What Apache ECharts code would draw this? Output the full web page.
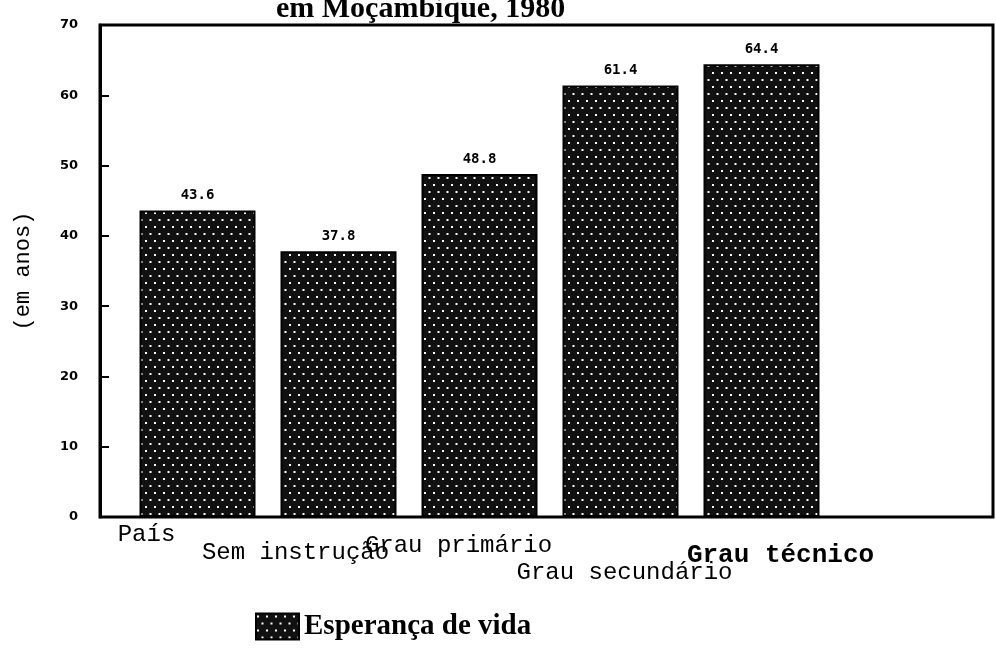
<!DOCTYPE html>
<html>
<head>
<meta charset="utf-8">
<script src="https://cdn.jsdelivr.net/npm/echarts@6/dist/echarts.min.js"></script>
<style>
  html, body { margin: 0; padding: 0; background: #fff; }
  #chart { width: 996px; height: 651px; }
</style>
</head>
<body>
<div id="chart"></div>
<script>
const categories = ['País', 'Sem instrução', 'Grau primário', 'Grau secundário', 'Grau técnico']
const lifeExpectancy = [43.6, 37.8, 48.8, 61.4, 64.4]
const yTicks = [0, 10, 20, 30, 40, 50, 60, 70]

// dotted screen fill like the printed bars
function dotPattern() {
  const c = document.createElement('canvas')
  c.width = 9
  c.height = 14
  const ctx = c.getContext('2d')
  ctx.fillStyle = '#111'
  ctx.fillRect(0, 0, 9, 14)
  ctx.fillStyle = '#fff'
  ctx.fillRect(1, 2, 2, 2)
  ctx.fillRect(5.5, 9, 2, 2)
  return c
}

const fill = { image: dotPattern(), repeat: 'repeat' }

// staggered positions of the category labels
const labelPad = [
  [0, 102, 0, 0],
  [18, 86, 0, 0],
  [11, 42, 0, 0],
  [38, 0, 0, 8],
  [19, 0, 0, 38]
]
const rich = {}
labelPad.forEach((p, i) => {
  rich['c' + i] = {
    fontFamily: 'Liberation Mono',
    fontSize: i === 4 ? 26 : 24,
    fontWeight: i === 4 ? 'bold' : 'normal',
    color: '#000',
    padding: p
  }
})

const chart = echarts.init(document.getElementById('chart'), null, { renderer: 'canvas' })

chart.setOption({
  animation: false,
  backgroundColor: '#fff',
  title: {
    text: 'em Moçambique, 1980',
    left: 271,
    top: -11,
    textStyle: { fontFamily: 'Liberation Serif', fontWeight: 'bold', fontSize: 30, color: '#000' }
  },
  legend: {
    left: 250,
    top: 607,
    icon: 'rect',
    itemWidth: 43,
    itemHeight: 26,
    itemGap: 4,
    textStyle: { fontFamily: 'Liberation Serif', fontWeight: 'bold', fontSize: 29, color: '#000', padding: [6, 0, 0, 0] },
    data: ['Esperança de vida']
  },
  grid: [
    { left: 100, right: 3, top: 25, bottom: 134, show: true, borderColor: '#000', borderWidth: 3 },
    { left: 127, width: 705, top: 25, bottom: 134 }
  ],
  xAxis: [
    { gridIndex: 0, type: 'value', show: false, min: 0, max: 1 },
    {
      gridIndex: 1,
      type: 'category',
      data: categories,
      axisLine: { show: false },
      axisTick: { show: false },
      axisLabel: {
        interval: 0,
        margin: 6,
        formatter: (v, i) => '{c' + i + '|' + v + '}',
        rich: rich
      }
    }
  ],
  yAxis: [
    {
      gridIndex: 0,
      type: 'value',
      min: yTicks[0],
      max: yTicks[yTicks.length - 1],
      interval: 10,
      name: '(em anos)',
      nameLocation: 'middle',
      nameGap: 66,
      nameTextStyle: { fontFamily: 'Liberation Mono', fontSize: 22, color: '#000' },
      axisLine: { show: true, lineStyle: { color: '#000', width: 3 } },
      axisTick: { show: true, inside: true, length: 9, lineStyle: { color: '#000', width: 2 } },
      axisLabel: { margin: 22, fontFamily: 'DejaVu Sans', fontWeight: 'bold', fontSize: 13, color: '#000' },
      splitLine: { show: false }
    },
    { gridIndex: 1, type: 'value', min: 0, max: 70, show: false }
  ],
  series: [
    {
      name: 'Esperança de vida',
      type: 'bar',
      xAxisIndex: 1,
      yAxisIndex: 1,
      barWidth: 116,
      data: lifeExpectancy,
      itemStyle: { color: fill, borderColor: '#000', borderWidth: 2 },
      label: {
        show: true,
        position: 'top',
        distance: 8,
        formatter: p => p.value.toFixed(1),
        fontFamily: 'DejaVu Sans Mono',
        fontWeight: 'bold',
        fontSize: 14,
        color: '#000'
      }
    }
  ]
})
</script>
</body>
</html>
